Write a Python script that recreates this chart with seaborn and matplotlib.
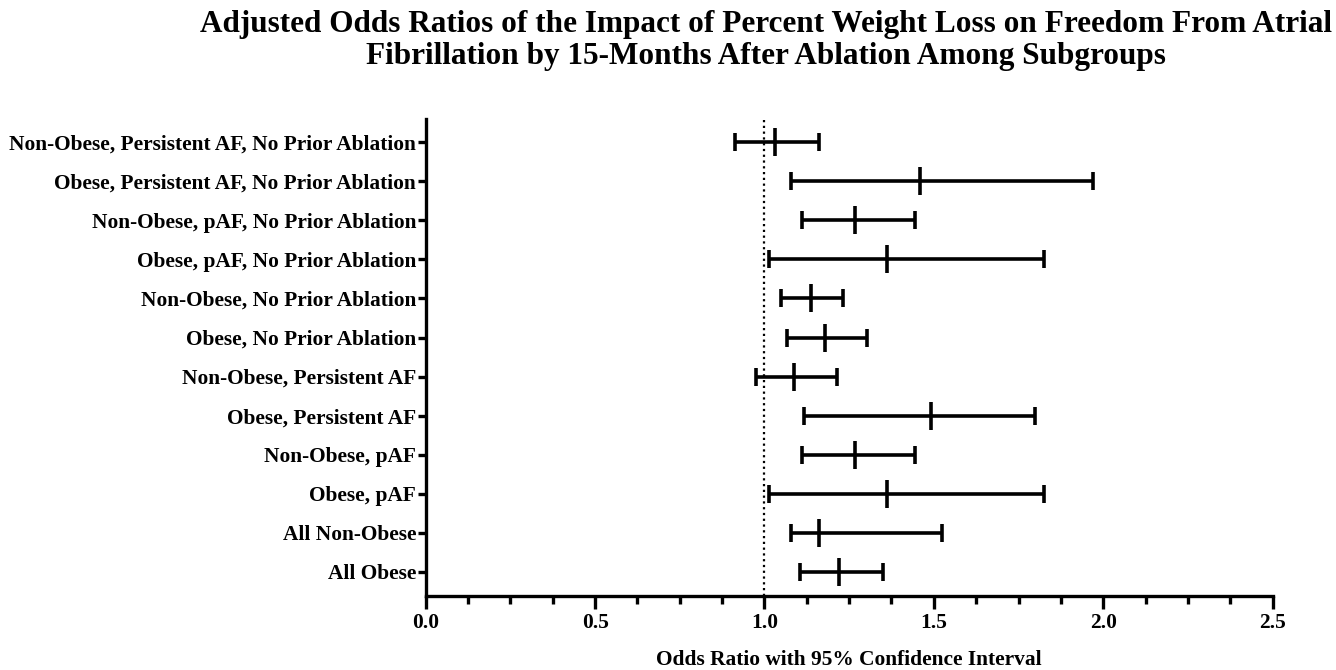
import numpy as np
import pandas as pd
import matplotlib
matplotlib.use("Agg")
import matplotlib.pyplot as plt
from matplotlib.ticker import MultipleLocator
import seaborn as sns

categories = [
    "Non-Obese, Persistent AF, No Prior Ablation",
    "Obese, Persistent AF, No Prior Ablation",
    "Non-Obese, pAF, No Prior Ablation",
    "Obese, pAF, No Prior Ablation",
    "Non-Obese, No Prior Ablation",
    "Obese, No Prior Ablation",
    "Non-Obese, Persistent AF",
    "Obese, Persistent AF",
    "Non-Obese, pAF",
    "Obese, pAF",
    "All Non-Obese",
    "All Obese",
]
odds_ratio = [1.03, 1.46, 1.266, 1.361, 1.137, 1.179, 1.088, 1.492, 1.266, 1.361, 1.162, 1.221]
ci_low = [0.912, 1.079, 1.111, 1.012, 1.050, 1.066, 0.975, 1.118, 1.111, 1.012, 1.077, 1.106]
ci_high = [1.162, 1.970, 1.443, 1.826, 1.233, 1.303, 1.215, 1.800, 1.443, 1.826, 1.523, 1.349]

df = pd.DataFrame({"group": categories, "or": odds_ratio, "lo": ci_low, "hi": ci_high})
n = len(df)
df["y"] = np.arange(n)[::-1]

sns.set_theme(style="white")
plt.rcParams["font.family"] = ["Liberation Serif", "DejaVu Serif"]
plt.rcParams["font.weight"] = "bold"
plt.rcParams["text.color"] = "black"
plt.rcParams["axes.labelcolor"] = "black"
plt.rcParams["xtick.color"] = "black"
plt.rcParams["ytick.color"] = "black"
plt.rcParams["xtick.labelcolor"] = "black"
plt.rcParams["ytick.labelcolor"] = "black"

fig = plt.figure(figsize=(13.36, 6.7), dpi=100)
ax = fig.add_axes([0.3187, 0.1105, 0.6338, 0.712])

ax.axvline(1.0, color="black", linestyle=(0, (1, 1.6)), linewidth=1.6, zorder=1)
ax.errorbar(df["or"], df["y"],
            xerr=[df["or"] - df["lo"], df["hi"] - df["or"]],
            fmt="none", ecolor="black", elinewidth=2.6, capsize=6.2, capthick=2.6, zorder=3)
sns.scatterplot(data=df, x="or", y="y", marker="|", s=420, linewidth=2.6,
                color="black", ax=ax, zorder=4, legend=False)

ax.set_xlim(0, 2.5)
ax.set_ylim(-0.62, n - 0.4)
ax.xaxis.set_major_locator(MultipleLocator(0.5))
ax.xaxis.set_minor_locator(MultipleLocator(0.125))
ax.xaxis.set_major_formatter(matplotlib.ticker.FormatStrFormatter("%.1f"))
ax.set_yticks(df["y"])
ax.set_yticklabels(df["group"], fontsize=15.4, fontweight="bold", color="black")
for lab in ax.get_xticklabels():
    lab.set_fontsize(15.4)
    lab.set_fontweight("bold")
    lab.set_color("black")

for s in ["top", "right"]:
    ax.spines[s].set_visible(False)
for s in ["left", "bottom"]:
    ax.spines[s].set_linewidth(2.4)
    ax.spines[s].set_color("black")

ax.tick_params(axis="x", which="major", direction="out", length=9.5, width=2.4, color="black", pad=3, bottom=True)
ax.tick_params(axis="x", which="minor", direction="out", length=6, width=2.4, color="black", bottom=True)
ax.tick_params(axis="y", which="major", direction="out", length=6, width=2.4, color="black", pad=1, left=True)

ax.set_xlabel("Odds Ratio with 95% Confidence Interval", fontsize=15.4, fontweight="bold",
              labelpad=12, color="black")
ax.set_ylabel("")

fig.suptitle("Adjusted Odds Ratios of the Impact of Percent Weight Loss on Freedom From Atrial\n"
             "Fibrillation by 15-Months After Ablation Among Subgroups",
             x=0.573, y=0.985, fontsize=22.5, fontweight="bold", linespacing=1.15, color="black")

fig.savefig("out.png", dpi=100, facecolor="white")
